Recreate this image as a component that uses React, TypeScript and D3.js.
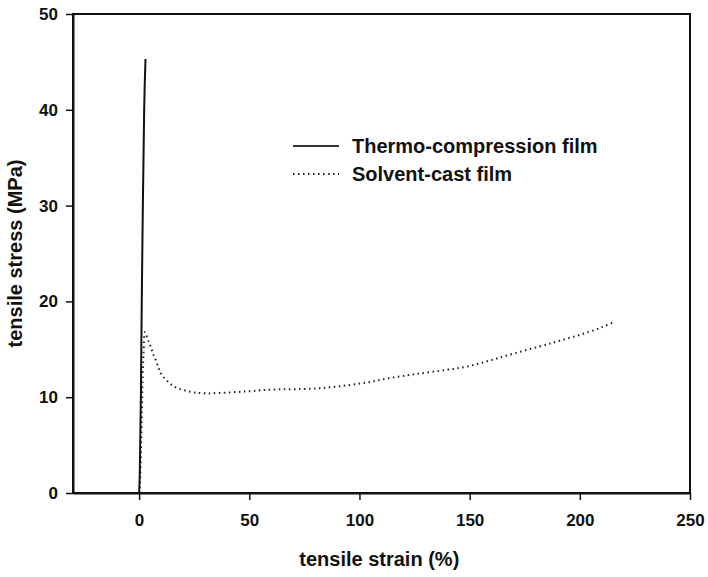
import { useRef, useEffect } from 'react';
import * as d3 from 'd3';

// thermo-compression film (solid)
const thermoStrain = [0, 0.3, 0.8, 1.2, 1.7, 2.3, 2.9];
const thermoStress = [0, 2, 10, 20, 30, 40, 45.3];

// solvent-cast film (dotted)
const solventStrain = [0.3, 0.8, 1.2, 1.6, 2.0, 2.7, 4, 5.4, 6.4, 7.7, 9.1, 10.4, 13.6, 16.8, 21, 25, 30, 36.7, 45, 51.7, 60, 74, 85, 95.6, 105, 113.8, 125, 139.6, 148.7, 158, 166.8, 181.8, 191, 201.3, 210, 216];
const solventStress = [0, 4, 8, 12, 14.5, 16.8, 16.0, 15.2, 14.5, 13.8, 12.9, 12.3, 11.5, 11.0, 10.7, 10.5, 10.4, 10.45, 10.55, 10.65, 10.8, 10.85, 11.0, 11.27, 11.6, 12.0, 12.4, 12.85, 13.2, 13.75, 14.35, 15.3, 15.9, 16.6, 17.3, 17.9];

const xTicks = [0, 50, 100, 150, 200, 250];
const yTicks = [0, 10, 20, 30, 40, 50];
const seriesNames = ['Thermo-compression film', 'Solvent-cast film'];

const WIDTH = 708;
const HEIGHT = 577;
const MARGIN = { top: 14, right: 18, bottom: 84, left: 73 };
const FONT = 'Liberation Sans, Arial, Helvetica, sans-serif';

export default function App() {
  const svgRef = useRef<SVGSVGElement>(null);

  useEffect(() => {
    if (!svgRef.current) return;
    const svg = d3.select(svgRef.current);
    svg.selectAll('*').remove();

    const innerWidth = WIDTH - MARGIN.left - MARGIN.right;
    const innerHeight = HEIGHT - MARGIN.top - MARGIN.bottom;

    const x = d3.scaleLinear().domain([-30, 250]).range([0, innerWidth]);
    const y = d3.scaleLinear().domain([0, 50]).range([innerHeight, 0]);

    const g = svg.append('g').attr('transform', `translate(${MARGIN.left},${MARGIN.top})`);

    // frame
    g.append('rect')
      .attr('width', innerWidth)
      .attr('height', innerHeight)
      .attr('fill', 'none')
      .attr('stroke', '#111')
      .attr('stroke-width', 2);

    const xAxis = g.append('g')
      .attr('transform', `translate(0,${innerHeight})`)
      .call(d3.axisBottom(x).tickValues(xTicks).tickSize(7).tickPadding(14).tickSizeOuter(0));
    xAxis.select('.domain').attr('stroke-width', 2).attr('stroke', '#111');
    xAxis.selectAll('.tick line').attr('stroke-width', 1.5).attr('stroke', '#111');
    xAxis.selectAll('text')
      .attr('font-family', FONT)
      .attr('font-size', '17px')
      .attr('font-weight', 'bold')
      .attr('fill', '#111');

    const yAxis = g.append('g')
      .call(d3.axisLeft(y).tickValues(yTicks).tickSize(7).tickPadding(8).tickSizeOuter(0));
    yAxis.select('.domain').attr('stroke-width', 2).attr('stroke', '#111');
    yAxis.selectAll('.tick line').attr('stroke-width', 1.5).attr('stroke', '#111');
    yAxis.selectAll('text')
      .attr('font-family', FONT)
      .attr('font-size', '17px')
      .attr('font-weight', 'bold')
      .attr('fill', '#111');

    const thermo = thermoStrain.map((s, i) => [s, thermoStress[i]] as [number, number]);
    const solvent = solventStrain.map((s, i) => [s, solventStress[i]] as [number, number]);

    // solvent-cast: dotted
    g.append('path')
      .datum(solvent)
      .attr('fill', 'none')
      .attr('stroke', '#222')
      .attr('stroke-width', 2)
      .attr('stroke-dasharray', '1.5 3.5')
      .attr('d', d3.line<[number, number]>().x((d) => x(d[0])).y((d) => y(d[1])).curve(d3.curveCatmullRom));

    // thermo-compression: solid
    g.append('path')
      .datum(thermo)
      .attr('fill', 'none')
      .attr('stroke', '#111')
      .attr('stroke-width', 2)
      .attr('d', d3.line<[number, number]>().x((d) => x(d[0])).y((d) => y(d[1])).curve(d3.curveMonotoneX));

    // legend
    const legend = g.append('g').attr('transform', `translate(${293 - MARGIN.left},${146 - MARGIN.top})`);
    seriesNames.forEach((name, i) => {
      const row = legend.append('g').attr('transform', `translate(0,${i * 28})`);
      row.append('line')
        .attr('x1', 0)
        .attr('x2', 46)
        .attr('stroke', i === 0 ? '#333' : '#222')
        .attr('stroke-width', 2)
        .attr('stroke-dasharray', i === 0 ? null : '1.5 3.5');
      row.append('text')
        .attr('x', 59)
        .attr('dy', '0.36em')
        .attr('font-family', FONT)
        .attr('font-size', '20px')
        .attr('font-weight', 'bold')
        .attr('fill', '#111')
        .text(name);
    });

    // axis titles
    g.append('text')
      .attr('x', x(109))
      .attr('y', innerHeight + 73)
      .attr('text-anchor', 'middle')
      .attr('font-family', FONT)
      .attr('font-size', '20px')
      .attr('font-weight', 'bold')
      .attr('fill', '#111')
      .text('tensile strain (%)');

    g.append('text')
      .attr('transform', 'rotate(-90)')
      .attr('x', -innerHeight / 2)
      .attr('y', -MARGIN.left + 22)
      .attr('text-anchor', 'middle')
      .attr('font-family', FONT)
      .attr('font-size', '20px')
      .attr('font-weight', 'bold')
      .attr('fill', '#111')
      .text('tensile stress (MPa)');
  }, []);

  return (
    <svg
      ref={svgRef}
      width={WIDTH}
      height={HEIGHT}
      style={{ position: 'absolute', left: 0, top: 0, background: '#fff' }}
    />
  );
}
